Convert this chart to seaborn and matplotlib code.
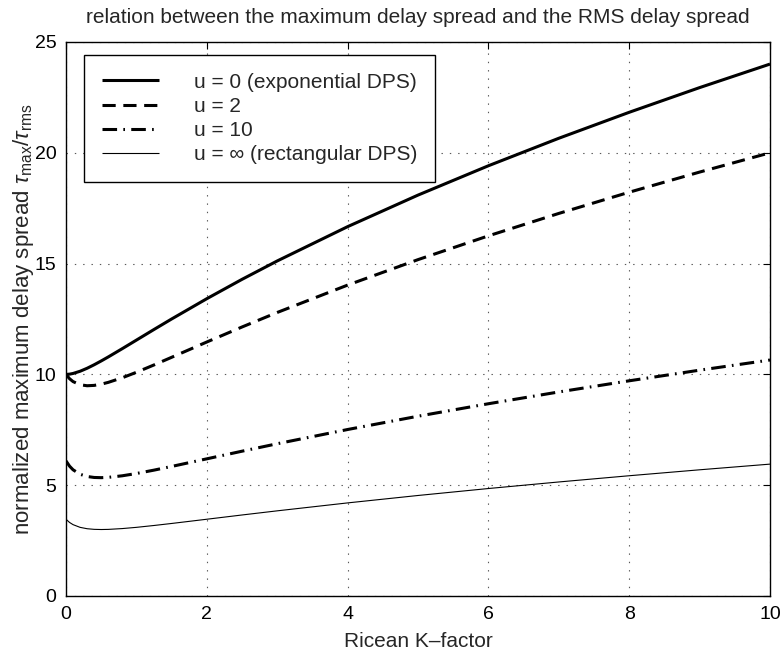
import matplotlib
matplotlib.use("Agg")
import matplotlib.pyplot as plt
import seaborn as sns
import pandas as pd

# Ricean K-factor samples
k_factor = [0, 0.05, 0.1, 0.2, 0.3, 0.4, 0.5, 0.6, 0.8, 1.0, 1.25, 1.5,
            2, 2.5, 3, 4, 5, 6, 7, 8, 9, 10]

# normalized maximum delay spread tau_max / tau_rms for each DPS shape
ratio_u0 = [10.000, 10.011, 10.042, 10.142, 10.277, 10.435, 10.607, 10.787,
            11.163, 11.547, 12.027, 12.500, 13.416, 14.289, 15.119, 16.667,
            18.091, 19.415, 20.656, 21.828, 22.942, 24.004]
ratio_u2 = [10.000, 9.807, 9.676, 9.532, 9.488, 9.504, 9.559, 9.640,
            9.849, 10.095, 10.427, 10.771, 11.462, 12.139, 12.794, 14.030,
            15.179, 16.252, 17.264, 18.221, 19.130, 20.000]
ratio_u10 = [6.097, 5.861, 5.696, 5.494, 5.393, 5.349, 5.340, 5.354,
             5.425, 5.528, 5.680, 5.846, 6.190, 6.534, 6.871, 7.513,
             8.113, 8.676, 9.208, 9.711, 10.191, 10.649]
ratio_rect = [3.464, 3.320, 3.220, 3.098, 3.036, 3.008, 3.000, 3.006,
              3.043, 3.098, 3.182, 3.273, 3.464, 3.656, 3.843, 4.201,
              4.536, 4.850, 5.146, 5.427, 5.695, 5.951]

labels = ["u = 0 (exponential DPS)", "u = 2", "u = 10",
          "u = \u221e (rectangular DPS)"]
series = [ratio_u0, ratio_u2, ratio_u10, ratio_rect]

x_ticks = [0, 2, 4, 6, 8, 10]
y_ticks = [0, 5, 10, 15, 20, 25]

sns.set_style("white")
plt.rcParams["font.family"] = ["Liberation Sans", "DejaVu Sans"]
plt.rcParams["mathtext.fontset"] = "custom"
plt.rcParams["mathtext.rm"] = "Liberation Sans"
plt.rcParams["mathtext.it"] = "Liberation Sans:italic"
plt.rcParams["lines.scale_dashes"] = False

styles = [
    dict(linestyle="-", linewidth=2.2),
    dict(linestyle=(0, (9.5, 5.5)), linewidth=2.2),
    dict(linestyle=(0, (10.5, 4.5, 1.2, 4.5)), linewidth=2.2),
    dict(linestyle="-", linewidth=0.8),
]

fig = plt.figure(figsize=(7.82, 6.51), dpi=100)
ax = fig.add_axes([66 / 782, 55 / 651, 704 / 782, 554 / 651])

for vals, lab, st in zip(series, labels, styles):
    df = pd.DataFrame({"K": k_factor, "ratio": vals})
    sns.lineplot(data=df, x="K", y="ratio", ax=ax, color="black",
                 label=lab, solid_capstyle="butt", dash_capstyle="butt", **st)

ax.set_xlim(0, 10)
ax.set_ylim(0, 25)
ax.set_xticks(x_ticks)
ax.set_yticks(y_ticks)
ax.tick_params(direction="in", length=5, width=0.8, top=True, right=True,
               labelsize=14, pad=7, colors="black")
for sp in ax.spines.values():
    sp.set_visible(True)
    sp.set_color("black")
    sp.set_linewidth(1.0)

ax.grid(True, color="0.35", linestyle=(0, (1, 5)), linewidth=0.8)

ax.set_title("relation between the maximum delay spread and the RMS delay spread",
             fontsize=15, pad=14)
ax.set_xlabel("Ricean K\u2013factor", fontsize=15, labelpad=7)
ax.set_ylabel(r"normalized maximum delay spread $\tau_{\mathrm{max}}/\tau_{\mathrm{rms}}$",
              fontsize=16, labelpad=-1)

leg = ax.legend(loc="upper left", bbox_to_anchor=(18 / 704, 1 - 13 / 554),
                borderaxespad=0, fontsize=15, frameon=True, fancybox=False,
                framealpha=1, edgecolor="black", handlelength=2.75,
                handletextpad=1.7, labelspacing=0.25, borderpad=0.85)
leg.get_frame().set_linewidth(1.0)

fig.savefig("out.png", dpi=100)
